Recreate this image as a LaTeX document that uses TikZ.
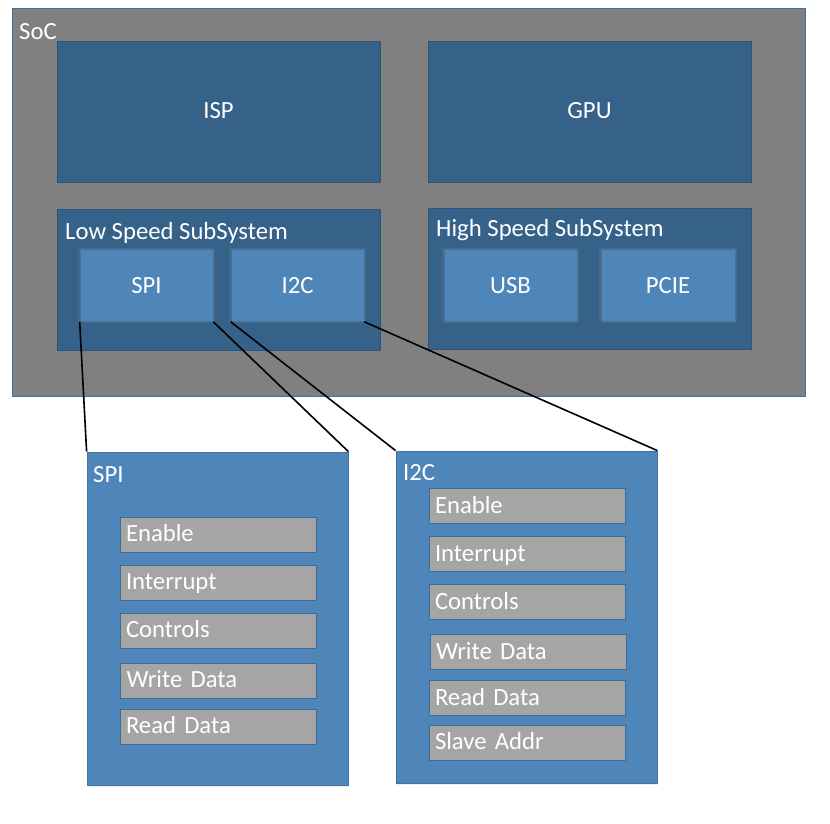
\documentclass[tikz,border=0pt]{standalone}
\usepackage{fontspec}
\setmainfont{Carlito}
\usetikzlibrary{shadows}
\definecolor{socgray}{HTML}{808080}
\definecolor{socedge}{HTML}{41719C}
\definecolor{darkblk}{HTML}{366189}
\definecolor{darkedge}{HTML}{2E5478}
\definecolor{midblk}{HTML}{4E86BA}
\definecolor{midedge}{HTML}{44729E}
\definecolor{reggray}{HTML}{A5A5A5}
\definecolor{regedge}{HTML}{3E6C98}
\begin{document}
\begin{tikzpicture}[x=1pt,y=-1pt,
  txt/.style={font=\fontsize{24.7}{29}\selectfont, text=white},
  socbox/.style={draw=socedge, fill=socgray, line width=1pt, inner sep=0pt},
  bigblk/.style={draw=darkedge, fill=darkblk, line width=0.8pt, inner sep=0pt, txt, text height=16pt, text depth=1pt},
  ipblk/.style={draw=midedge, fill=midblk, line width=0.6pt, inner sep=0pt, txt, text height=16pt, text depth=0pt, drop shadow={shadow xshift=0pt, shadow yshift=0pt, opacity=0.25, shadow scale=1.03}},
  regpanel/.style={draw=midedge, fill=midblk, line width=0.8pt, inner sep=0pt, drop shadow={shadow xshift=1pt, shadow yshift=-2pt, opacity=0.15}},
  regbox/.style={draw=regedge, fill=reggray, line width=0.8pt, minimum width=196pt, minimum height=35pt, inner xsep=6pt, inner ysep=0pt, txt, text width=184pt, align=left, text height=16pt, text depth=2pt},
  lbl/.style={txt, anchor=base west, inner sep=0pt},
  wire/.style={draw=black, line width=1.6pt}]
\useasboundingbox (0,0) rectangle (830,824);
\fill[white] (0,0) rectangle (830,824);
% SoC
\node[socbox, minimum width=793pt, minimum height=387pt] (soc) at (408.5,202.5) {};
\node[lbl] (soclbl) at (19,39.3) {SoC};
\node[bigblk, minimum width=323pt, minimum height=141pt] (isp) at (218.5,111.5) {ISP};
\node[bigblk, minimum width=323pt, minimum height=141pt] (gpu) at (589.5,111.5) {GPU};
\node[bigblk, minimum width=323pt, minimum height=141pt] (lss) at (218.5,279.5) {};
\node[lbl] (lsslbl) at (65,239.3) {Low Speed SubSystem};
\node[bigblk, minimum width=323pt, minimum height=141pt] (hss) at (589.5,278.5) {};
\node[lbl] (hsslbl) at (436,236.7) {High Speed SubSystem};
\node[ipblk, minimum width=133pt, minimum height=72pt] (spis) at (146.5,285.5) {SPI};
\node[ipblk, minimum width=133pt, minimum height=72pt] (i2cs) at (297.5,285.5) {I2C};
\node[ipblk, minimum width=133pt, minimum height=72pt] (usb) at (510.5,285.5) {USB};
\node[ipblk, minimum width=134pt, minimum height=72pt] (pcie) at (668,285.5) {PCIE};
% register panels
\node[regpanel, minimum width=261pt, minimum height=333pt] (spib) at (217.5,618.5) {};
\node[lbl] (spiblbl) at (93,482.3) {SPI};
\node[regpanel, minimum width=261pt, minimum height=332pt] (i2cb) at (526.5,617) {};
\node[lbl] (i2cblbl) at (403,480) {I2C};
% SPI registers
\node[regbox] (s1) at (218,534.5) {Enable};
\node[regbox] (s2) at (218,582.5) {Interrupt};
\node[regbox] (s3) at (218,630.5) {Controls};
\node[regbox] (s4) at (218.5,680.5) {Write Data};
\node[regbox] (s5) at (218,726.5) {Read Data};
% I2C registers
\node[regbox] (r1) at (527,506) {Enable};
\node[regbox] (r2) at (527,554) {Interrupt};
\node[regbox] (r3) at (527,602) {Controls};
\node[regbox] (r4) at (528,652) {Write Data};
\node[regbox] (r5) at (527,698) {Read Data};
\node[regbox] (r6) at (527,742.5) {Slave Addr};
% connectors
\draw[wire] (spis.south west) -- (spib.north west);
\draw[wire] (spis.south east) -- (spib.north east);
\draw[wire] (i2cs.south west) -- (i2cb.north west);
\draw[wire] (i2cs.south east) -- (i2cb.north east);
\end{tikzpicture}
\end{document}
